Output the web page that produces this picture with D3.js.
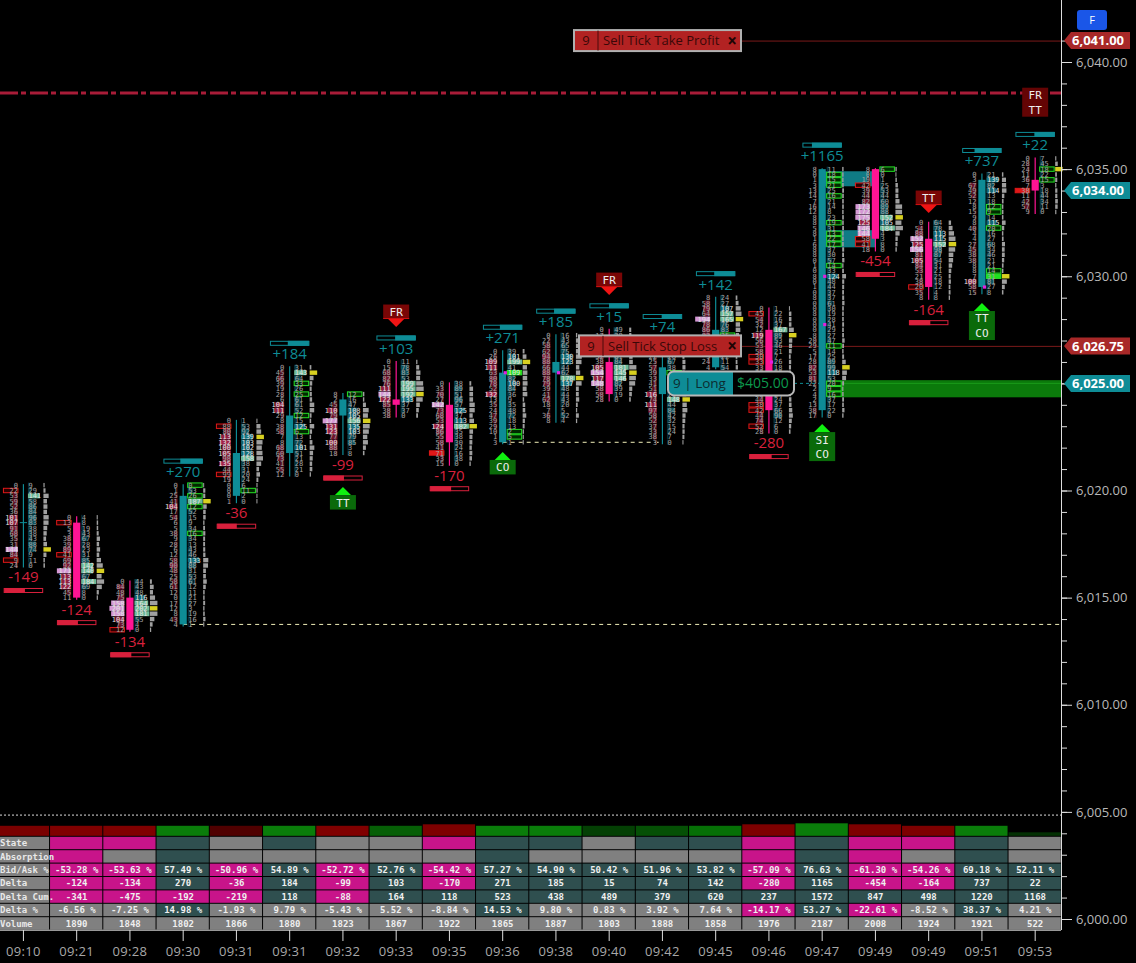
<!DOCTYPE html>
<html><head><meta charset="utf-8">
<script src="https://cdnjs.cloudflare.com/ajax/libs/d3/7.8.5/d3.min.js"></script>
<style>html,body{margin:0;padding:0;background:#000;overflow:hidden}svg{display:block}</style>
</head><body><div id="c"></div>
<script>
const times=["09:10","09:21","09:28","09:30","09:31","09:31","09:32","09:33","09:35","09:36","09:38","09:40","09:42","09:45","09:46","09:47","09:49","09:49","09:51","09:53"];
const opens =[6018.5,6018.5,6015,6013.75,6019.75,6021.75,6023.5,6024.25,6024,6022.25,6025.5,6026,6024.5,6025.75,6027.5,6023.75,6035,6031.75,6029.5,6034.5];
const closes=[6018.5,6015,6013.5,6019.75,6021.75,6023.5,6024.25,6024,6022.25,6025.5,6026,6024.5,6025.75,6027.5,6023.75,6035,6031.75,6029.5,6034.5,6034];
const topPrices=[6020.25,6018.75,6015.75,6020.25,6023.25,6025.75,6024.5,6026,6025,6026.5,6027.25,6027.5,6027,6029,6028.5,6035,6035,6032.5,6034.75,6035.5];
const bidRows=[
[0,22,53,59,52,36,101,107,91,68,35,31,144,84,9,24],
[0,13,5,3,38,39,89,41,69,92,171,113,113,122,45,11],
[0,84,48,75,158,201,158,104,73,12],
[0,1,25,41,104,17,54,6,5,38,9,28,6,12,58,90,48,25,58,61,12,0,17,12,8,43,4],
[0,88,80,113,132,100,105,98,135,44,99,19,0,0,0,1],
[0,45,66,39,19,28,6,104,111,29,8,38,58,7,8,68,60,73,41,55,12],
[8,2,45,110,79,177,131,123,77,100,88,18],
[0,15,68,82,76,111,144,122,85,38,38],
[0,33,70,27,142,73,68,53,124,86,55,58,41,71,33,15],
[0,26,109,111,63,80,78,52,132,13,35,24,47,39,29,10,1,3],
[0,22,58,62,94,88,66,88,78,79,39,41,62,18,7,36,8],
[0,17,30,28,40,52,38,105,154,117,148,58,58,28],
[20,14,31,22,25,57,39,33,41,51,116,74,111,97,58,52,37,33,38,3],
[8,58,79,64,194,78,86,83,61,20,14,9,24,4],
[0,45,54,32,12,119,56,53,58,30,33,33,20,41,35,44,26,44,38,42,44,74,52,28],
[8,0,1,3,13,14,7,16,12,8,8,5,8,1,6,8,8,0,1,0,8,0,1,0,8,0,0,8,0,0,0,8,20,29,5,17,28,82,53,81,22,2,4,2,13,38,17],
[8,0,19,42,39,44,82,173,172,175,125,146,144,58,41,18],
[0,54,88,152,125,156,81,105,84,53,21,38,20,35,8],
[0,3,67,49,52,12,8,15,9,8,40,4,4,27,45,38,38,8,8,7,100,58,15],
[0,28,24,11,36,7,38,11,42,57,9]];
const askRows=[
[9,29,141,58,86,84,96,83,38,38,43,88,74,9,11,0],
[4,8,19,43,67,28,23,31,85,142,140,67,184,69,8,0],
[44,43,48,116,164,202,181,55,4,0],
[0,53,26,187,12,52,15,9,34,16,34,13,43,46,133,88,31,53,61,12,11,21,27,3,19,16,1],
[1,53,92,139,103,102,128,158,38,31,20,24,6,11,2,0],
[31,143,64,33,26,25,61,61,52,12,15,125,6,13,72,101,51,21,28,21,0],
[12,16,47,108,105,156,135,103,79,85,3,8],
[11,78,83,53,199,195,192,133,37,37,0],
[38,89,51,96,57,125,37,113,182,35,38,30,24,16,38,0],
[39,101,199,41,109,82,100,84,36,9,35,48,72,18,13,2,5,1],
[16,43,65,75,130,123,44,62,178,137,48,44,43,20,5,52,4],
[49,39,44,30,52,61,84,181,145,146,82,39,19,0],
[12,18,40,26,67,38,22,30,34,48,20,148,44,84,42,32,15,24,7,0],
[24,27,107,157,165,76,83,25,40,30,18,22,11,54],
[1,22,16,37,167,89,53,46,21,7,26,18,30,28,40,36,24,24,37,66,90,12,6,0],
[11,18,15,21,25,16,21,14,8,23,19,31,13,22,17,37,30,57,14,33,124,48,44,37,37,61,30,19,28,41,29,27,47,11,14,25,89,99,118,53,20,9,16,37,17,22,0],
[6,0,1,25,53,44,60,89,88,152,105,184,4,3,8,0],
[64,78,113,115,152,98,87,54,31,21,25,18,12,4,8],
[21,139,82,114,13,18,12,9,14,115,20,16,27,68,34,46,21,21,14,31,81,27,8],
[7,45,18,22,15,3,18,44,34,11,0]];
const pocRows=[12,10,5,3,3,1,5,6,8,2,8,8,11,4,5,37,9,4,19,2];
const bidBoxes=[[1,14],[1,7],[9],[],[1,10],[],[],[],[13],[],[],[],[],[],[1,9,10,18,19,22],[],[3,13,14],[12],[],[6]];
const askBoxes=[[],[],[],[0,2,4,9],[13],[3,5,9,12],[0],[],[],[4,15,16],[],[],[6],[7],[],[1,2,3,5,10,12,13,14,18,33,40,41,42],[0],[],[6,7,10,18,19],[2,4]];
const solidBids=[[8,13],[19,6]];
const solidAsks=[[9,4],[18,19]];
const dotCandles=[9,10,14,15,15,18];
const dotPrices=[6025.5,6025.5,6026.0,6030,6027.75,6029.5];
const deltas=[-149,-124,-134,270,-36,184,-99,103,-170,271,185,15,74,142,-280,1165,-454,-164,737,22];
const deltaPct=[-7.88,-6.56,-7.25,14.98,-1.93,9.79,-5.43,5.52,-8.84,14.53,9.80,0.83,3.92,7.64,-14.17,53.27,-22.61,-8.52,38.37,4.21];
const bidAsk=[null,-53.28,-53.63,57.49,-50.96,54.89,-52.72,52.76,-54.42,57.27,54.90,50.42,51.96,53.82,-57.09,76.63,-61.30,-54.26,69.18,52.11];
const deltaCum=[null,-341,-475,-192,-219,118,-88,164,118,523,438,489,379,620,237,1572,847,498,1220,1168];
const volumes=[null,1890,1848,1802,1866,1880,1823,1867,1922,1865,1887,1803,1888,1858,1976,2187,2008,1924,1921,522];
const stateCodes ="-pptgtggpttgttptpptg";
const absorbCodes="-pgtgggggtggggptpgtg";
const pctCodes   ="-ggtgggggtggggptpgtg";
const rowNames=["State","Absorption","Bid/Ask %","Delta","Delta Cum.","Delta %","Volume"];
const powerValues=[10,10,10,10,10,10,10,10,11.5,10,10,10,10,10,11.5,12.5,11.5,10,10,3.5];
const powerColors=["#7a0000","#800000","#800000","#0a7d0a","#500000","#0a7d0a","#800000","#065f06","#7d0000","#0a7d0a","#0a7d0a","#044004","#055005","#067006","#7d0000","#0a7d0a","#7d0000","#7d0000","#0a7d0a","#033003"];
const flagCandles=[7,11,17,19,6,9,15,18];
const flagTexts=[["FR"],["FR"],["TT"],["FR","TT"],["TT"],["CO"],["SI","CO"],["TT","CO"]];
const flagPrices=[6027.63,6029.12,6032.95,6038.8,6020.16,6021.8,6023.1,6028.75];
const flagKinds=["d","d","d","n","u","u","u","u"];
const tagPrices=[6041,6034,6026.75,6025];
const tagColors=["#a82828","#0e8c96","#a82828","#0e8c96"];
const axisMajor=[6000,6005,6010,6015,6020,6025,6030,6035,6040];
const axisMinor=d3.range(6000,6042);

const C={teal:"#0e8c96",pink:"#ff1493",red:"#d8203c",cellP:"#c8148a",cellT:"#2f4f4f",cellG:"#808080"};
const svg=d3.select("#c").append("svg").attr("width",1136).attr("height",963).style("background","#000");
const y=d3.scaleLinear().domain([6000,6040]).range([919,62]);
const x=d3.scaleBand().domain(d3.range(times.length)).range([-3.2,1061.8]);
const cx=i=>x(i)+x.bandwidth()/2;
const MONO="'DejaVu Sans Mono',monospace", SANS="'Open Sans',sans-serif";

// reference lines & zones
svg.append("rect").attr("x",cx(15)).attr("width",cx(16)-cx(15)).attr("y",y(6034.9)).attr("height",y(6034.2)-y(6034.9)).attr("fill","#12919c").attr("opacity",.85);
svg.append("rect").attr("x",cx(15)).attr("width",cx(16)-cx(15)).attr("y",y(6032.15)).attr("height",y(6031.35)-y(6032.15)).attr("fill","#12919c").attr("opacity",.85);
svg.append("rect").attr("x",cx(15)+4).attr("width",1061-cx(15)-4).attr("y",y(6025.15)).attr("height",y(6024.35)-y(6025.15)).attr("fill","#0b7a0b");
svg.append("line").attr("x1",cx(15)+4).attr("x2",1061).attr("y1",y(6025)).attr("y2",y(6025)).attr("stroke","#1a9a1a");
svg.append("line").attr("x1",0).attr("x2",1061).attr("y1",y(6038.55)).attr("y2",y(6038.55)).attr("stroke","#a81c38").attr("stroke-width",3).attr("stroke-dasharray","18 3 5 4");
svg.append("line").attr("x1",741).attr("x2",1061).attr("y1",y(6041)+.5).attr("y2",y(6041)+.5).attr("stroke","#7a1a1a");
svg.append("line").attr("x1",741).attr("x2",1061).attr("y1",y(6026.75)+.5).attr("y2",y(6026.75)+.5).attr("stroke","#7a1a1a");
svg.append("line").attr("x1",cx(3)).attr("x2",1061).attr("y1",y(6013.75)).attr("y2",y(6013.75)).attr("stroke","#f0eeb8").attr("stroke-dasharray","4 4");
svg.append("line").attr("x1",cx(9)).attr("x2",cx(12)).attr("y1",y(6022.25)).attr("y2",y(6022.25)).attr("stroke","#f0eeb8").attr("stroke-dasharray","4 4");
svg.append("line").attr("x1",0).attr("x2",1061).attr("y1",y(6004.85)).attr("y2",y(6004.85)).attr("stroke","#ddd").attr("stroke-dasharray","2 2");

// footprints
const bidW=d3.scaleLinear().domain([0,180]).range([1,15]).clamp(true);
const askW=d3.scaleLinear().domain([0,180]).range([1,15]).clamp(true);
const bidC=v=>v>=140?"#d498d4":d3.scaleLinear().domain([0,60,139]).range(["#300a10","#621024","#a8264e"])(v);
const askC=v=>v>=140?"#6cba98":d3.scaleLinear().domain([0,60,139]).range(["#062a30","#0a4650","#147682"])(v);
const volW=d3.scaleLinear().domain([0,300]).range([1,7.5]).clamp(true);
times.forEach((t,i)=>{
  const g=svg.append("g");
  const c=cx(i), n=bidRows[i].length;
  const rows=d3.range(n).map(k=>({k,price:topPrices[i]-k*.25,b:bidRows[i][k],a:askRows[i][k]}));
  const yr=d=>y(d.price);
  g.selectAll(".bb").data(rows).join("rect").attr("x",d=>c-5.5-bidW(d.b)).attr("width",d=>bidW(d.b)).attr("y",d=>yr(d)-2.5).attr("height",5).attr("fill",d=>bidC(d.b));
  g.selectAll(".ab").data(rows).join("rect").attr("x",c+4.5).attr("width",d=>askW(d.a)).attr("y",d=>yr(d)-2.5).attr("height",5).attr("fill",d=>askC(d.a));
  g.selectAll(".vb").data(rows).join("rect").attr("x",c+20).attr("width",d=>d.k===pocRows[i]?7.5:volW(d.a+d.b)).attr("y",d=>yr(d)-2.2).attr("height",4.4).attr("fill",d=>d.k===pocRows[i]?"#d8d020":"#a0a0a0");
  g.selectAll(".bx").data(rows.filter(d=>bidBoxes[i].includes(d.k))).join("rect").attr("x",c-20).attr("width",14.5).attr("y",d=>yr(d)-2.2).attr("height",4.4)
    .attr("fill",d=>solidBids.some(s=>s[0]===i&&s[1]===d.k)?"#e01818":"#2a0000").attr("stroke","#e01818");
  g.selectAll(".ax").data(rows.filter(d=>askBoxes[i].includes(d.k))).join("rect").attr("x",c+4.5).attr("width",14.5).attr("y",d=>yr(d)-2.2).attr("height",4.4)
    .attr("fill",d=>solidAsks.some(s=>s[0]===i&&s[1]===d.k)?"#20e020":"#002a00").attr("stroke","#24e024");
  g.selectAll(".bt").data(rows).join("text").text(d=>d.b).attr("x",c-5.5).attr("y",d=>yr(d)).attr("dy","0.36em").attr("text-anchor","end")
    .attr("font-family",MONO).attr("font-size",7).attr("fill",d=>d.b>=100?"#e4e4e4":"#a4a4a4");
  g.selectAll(".at").data(rows).join("text").text(d=>d.a).attr("x",c+5).attr("y",d=>yr(d)).attr("dy","0.36em")
    .attr("font-family",MONO).attr("font-size",7).attr("fill",d=>d.a>=100?"#e4e4e4":"#a4a4a4");
  // candle
  const col=closes[i]>=opens[i]?C.teal:C.pink;
  g.append("line").attr("x1",c).attr("x2",c).attr("y1",yr(rows[0])-1).attr("y2",yr(rows[n-1])+2).attr("stroke",col).attr("stroke-width",1.2);
  const yt=Math.min(y(opens[i]),y(closes[i])), yb=Math.max(y(opens[i]),y(closes[i]));
  if(yb-yt<1) g.append("line").attr("x1",c-3.6).attr("x2",c+3.6).attr("y1",yt).attr("y2",yt).attr("stroke",col);
  else g.append("rect").attr("x",c-3.6).attr("width",7.2).attr("y",yt).attr("height",yb-yt).attr("fill",col);
  // delta label and bar
  const pos=deltas[i]>=0, edge=pos?yr(rows[0]):yr(rows[n-1]), clr=pos?C.teal:C.red;
  g.append("text").text((pos?"+":"")+deltas[i]).attr("x",c).attr("y",edge+(pos?-13.5:11.5)).attr("dy","0.36em").attr("text-anchor","middle")
    .attr("font-family",SANS).attr("font-size",15).attr("fill",clr);
  const by=edge+(pos?-26.5:22.5), bw=38.5, frac=.5+Math.abs(deltaPct[i])/200;
  g.append("rect").attr("x",c-bw/2).attr("y",by+.5).attr("width",bw).attr("height",4).attr("fill","#000").attr("stroke",clr);
  g.append("rect").attr("x",pos?c+bw/2-bw*frac:c-bw/2).attr("y",by).attr("width",bw*frac).attr("height",5).attr("fill",clr);
});
svg.selectAll(".dot").data(dotCandles).join("rect").attr("x",d=>cx(d)+1).attr("y",(d,i)=>y(dotPrices[i])-1.5).attr("width",3.2).attr("height",3.2).attr("fill","#e020e0");

// flags
flagCandles.forEach((ci,i)=>{
  const c=cx(ci), tip=y(flagPrices[i]), k=flagKinds[i], lines=flagTexts[i], h=lines.length===2?29:14.5;
  const g=svg.append("g");
  let top;
  if(k==="d"){top=tip-8-h;
    g.append("rect").attr("x",c-13).attr("y",top).attr("width",26).attr("height",h).attr("fill","#7a0606");
    g.append("rect").attr("x",c-13).attr("y",top+h-1).attr("width",26).attr("height",1).attr("fill","#d01010");
    g.append("path").attr("d",`M${c-8},${tip-8}L${c+8},${tip-8}L${c},${tip}Z`).attr("fill","#f01414");
  }else if(k==="u"){top=tip+8;
    g.append("rect").attr("x",c-13).attr("y",top).attr("width",26).attr("height",h).attr("fill","#0a6a0a");
    g.append("path").attr("d",`M${c-8},${tip+8}L${c+8},${tip+8}L${c},${tip}Z`).attr("fill","#10f010");
  }else{top=tip;
    g.append("rect").attr("x",c-13).attr("y",top).attr("width",26).attr("height",h).attr("fill","#640404");
  }
  lines.forEach((t,j)=>g.append("text").text(t).attr("x",c).attr("y",top+7.5+j*14.7).attr("dy","0.36em").attr("text-anchor","middle").attr("font-family",MONO).attr("font-size",11).attr("fill","#eee"));
});

// order labels
function orderLabel(x0,x1,price,txt){
  const yc=y(price), g=svg.append("g");
  g.append("rect").attr("x",x0).attr("y",yc-10.5).attr("width",x1-x0).attr("height",21).attr("fill","#b22222").attr("stroke","#b0b0b0").attr("stroke-width",2);
  g.append("line").attr("x1",x0+24).attr("x2",x0+24).attr("y1",yc-10).attr("y2",yc+10).attr("stroke","#4a0a0a");
  g.append("text").text("9").attr("x",x0+12).attr("y",yc).attr("dy","0.36em").attr("text-anchor","middle").attr("font-family",SANS).attr("font-size",13).attr("fill","#3a0808");
  g.append("text").text(txt).attr("x",x0+29).attr("y",yc).attr("dy","0.36em").attr("font-family",SANS).attr("font-size",13).attr("fill","#3a0808");
  g.append("text").text("×").attr("x",x1-9).attr("y",yc).attr("dy","0.36em").attr("text-anchor","middle").attr("font-family",SANS).attr("font-weight",700).attr("font-size",17).attr("fill","#200404");
}
orderLabel(574,741,6041,"Sell Tick Take Profit");
orderLabel(579,741,6026.75,"Sell Tick Stop Loss");
(function(){
  const yc=y(6025), g=svg.append("g"), x0=668,x1=794,xm=733;
  g.append("line").attr("x1",x1).attr("x2",cx(15)).attr("y1",yc).attr("y2",yc).attr("stroke",C.teal).attr("stroke-dasharray","3 3");
  g.append("rect").attr("x",x0).attr("y",yc-12).attr("width",x1-x0).attr("height",24).attr("rx",6).attr("fill","#000");
  g.append("path").attr("d",`M${xm},${yc-12}H${x0+6}a6,6 0 0 0 -6,6V${yc+6}a6,6 0 0 0 6,6H${xm}Z`).attr("fill",C.teal);
  g.append("rect").attr("x",x0).attr("y",yc-12).attr("width",x1-x0).attr("height",24).attr("rx",6).attr("fill","none").attr("stroke","#b8b8b8").attr("stroke-width",2);
  g.append("text").text("9 | Long").attr("x",x0+5).attr("y",yc).attr("dy","0.36em").attr("font-family",SANS).attr("font-size",13.5).attr("fill","#0c2c30");
  g.append("text").text("$405.00").attr("x",xm+4).attr("y",yc).attr("dy","0.36em").attr("font-family",SANS).attr("font-size",14).attr("fill","#0d9a4d");
})();

// table
const cellFill=c=>c==="p"?C.cellP:c==="t"?C.cellT:C.cellG;
const signCode=v=>v<0?"p":"t";
const fmtPct=v=>v.toFixed(2)+" %";
const tableRows=[
  {fill:i=>stateCodes[i],text:()=>""},
  {fill:i=>absorbCodes[i],text:()=>""},
  {fill:i=>signCode(bidAsk[i]),text:i=>fmtPct(bidAsk[i])},
  {fill:i=>signCode(deltas[i]),text:i=>String(deltas[i])},
  {fill:i=>signCode(deltaCum[i]),text:i=>String(deltaCum[i])},
  {fill:i=>pctCodes[i],text:i=>fmtPct(deltaPct[i])},
  {fill:()=>"g",text:i=>String(volumes[i])}
];
const tbl=svg.append("g");
const powerH=d3.scaleLinear().domain([0,10]).range([0,10]);
const rowTop=836.8, rowStep=13.4;
times.forEach((t,i)=>{
  const xl=Math.max(0,x(i)), xr=x(i)+x.bandwidth();
  tbl.append("rect").attr("x",xl).attr("y",835.8-powerH(powerValues[i])).attr("width",xr-xl-1).attr("height",powerH(powerValues[i])).attr("fill",powerColors[i]);
  tableRows.forEach((r,k)=>{
    const ry=rowTop+k*rowStep;
    tbl.append("rect").attr("x",xl).attr("y",ry).attr("width",xr-xl-1).attr("height",rowStep-1).attr("fill",i===0?C.cellG:cellFill(r.fill(i)));
  });
});
times.forEach((t,i)=>{
  tableRows.forEach((r,k)=>{
    const ry=rowTop+k*rowStep+(rowStep-1)/2;
    if(i===0){tbl.append("text").text(rowNames[k]).attr("x",0).attr("y",ry).attr("dy","0.36em").attr("font-family",MONO).attr("font-weight",700).attr("font-size",9).attr("fill","#e8e8e8");return;}
    const s=r.text(i); if(!s) return;
    tbl.append("text").text(s).attr("x",cx(i)).attr("y",ry).attr("dy","0.36em").attr("text-anchor","middle").attr("font-family",MONO).attr("font-weight",700).attr("font-size",9).attr("fill","#efefef");
  });
});
svg.append("line").attr("x1",0).attr("x2",1061).attr("y1",930.2).attr("y2",930.2).attr("stroke","#ddd");

// axes
const xAxis=d3.axisBottom(x).tickSize(11).tickPadding(6).tickFormat(i=>times[i]);
const gx=svg.append("g").attr("transform","translate(0,930)").call(xAxis);
gx.select(".domain").remove();
gx.selectAll("line").attr("stroke","#ddd");
gx.selectAll("text").attr("font-family",SANS).attr("font-size",13).attr("letter-spacing",.3).attr("fill","#a8a8a8");
const yMinor=d3.axisRight(y).tickValues(axisMinor).tickSize(6).tickFormat("");
const gy=svg.append("g").attr("transform","translate(1061,0)").call(yMinor);
gy.select(".domain").remove();
gy.selectAll("line").attr("stroke","#ddd");
const fmtP=d3.format(",.2f");
const yMajor=d3.axisRight(y).tickValues(axisMajor).tickSize(11).tickPadding(4).tickFormat(fmtP);
const gy2=svg.append("g").attr("transform","translate(1061,0)").call(yMajor);
gy2.select(".domain").remove();
gy2.selectAll("line").attr("stroke","#ddd");
gy2.selectAll("text").attr("font-family",SANS).attr("font-size",13).attr("fill","#b8b8b8");
svg.append("line").attr("x1",1061.5).attr("x2",1061.5).attr("y1",0).attr("y2",930).attr("stroke","#ddd");

// price tags
tagPrices.forEach((p,i)=>{
  const yc=y(p);
  svg.append("path").attr("d",`M1064,${yc}L1071,${yc-8.5}H1130V${yc+8.5}H1071Z`).attr("fill",tagColors[i]);
  svg.append("text").text(fmtP(p)).attr("x",1072).attr("y",yc).attr("dy","0.36em").attr("font-family",SANS).attr("font-weight",700).attr("font-size",13).attr("fill","#fff");
});
// F button
svg.append("rect").attr("x",1077).attr("y",10).attr("width",30).attr("height",20).attr("rx",3).attr("fill","#1a56e8");
svg.append("text").text("F").attr("x",1092).attr("y",20).attr("dy","0.36em").attr("text-anchor","middle").attr("font-family",SANS).attr("font-size",11).attr("fill","#fff");
</script></body></html>
